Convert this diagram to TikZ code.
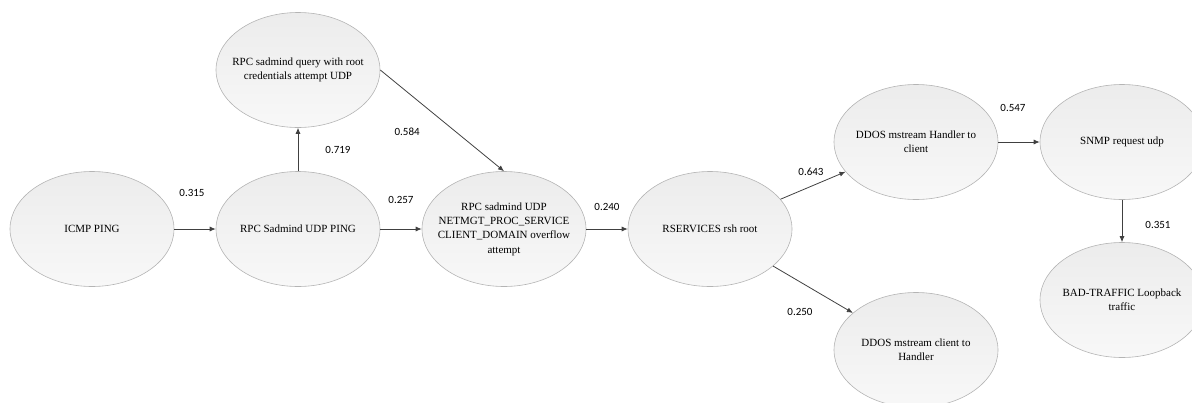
\documentclass[tikz,border=0pt]{standalone}
\usepackage{fontspec}
\setmainfont{Liberation Serif}
\newfontfamily\numfont{Carlito}
\usetikzlibrary{positioning, arrows.meta, shapes.geometric}
\usepackage{xcolor}
\definecolor{alertBorder}{HTML}{B4B4B4}
\definecolor{alertTop}{HTML}{ECECEC}
\definecolor{alertBottom}{HTML}{F8F8F8}
\definecolor{alertArrow}{HTML}{404040}

\begin{document}
\begin{tikzpicture}[
    node distance=206pt,
    attack/.style={ellipse, draw=alertBorder, line width=0.6pt, top color=alertTop, bottom color=alertBottom,
        minimum width=164pt, minimum height=115pt, inner sep=-14pt, align=center,
        font=\fontsize{11}{14.3}\selectfont},
    num/.style={font=\numfont\fontsize{11}{13}\selectfont, inner sep=0pt},
    every edge/.style={draw=alertArrow, line width=0.8pt, -{Latex[length=6pt,width=5pt]}}
]
    \useasboundingbox (0,0) rectangle (1192pt,-402pt);
    \clip (0,0) rectangle (1192pt,-402pt);

    \node[attack] (icmp) at (92pt,-229pt) {ICMP PING};
    \node[attack, right of=icmp] (sadping) {RPC Sadmind UDP PING};
    \node[attack, above of=sadping, node distance=159pt] (query) {RPC sadmind query with root\\credentials attempt UDP};
    \node[attack, right of=sadping] (netmgt) {RPC sadmind UDP\\NETMGT\_PROC\_SERVICE\\CLIENT\_DOMAIN overflow\\attempt};
    \node[attack, right of=netmgt] (rsh) {RSERVICES rsh root};
    \node[attack, right of=rsh, yshift=87pt] (handler) {DDOS mstream Handler to\\client};
    \node[attack, right of=rsh, yshift=-121pt] (client) {DDOS mstream client to\\Handler};
    \node[attack, right of=handler] (snmp) {SNMP request udp};
    \node[attack, below of=snmp, node distance=158pt] (bad) {BAD-TRAFFIC Loopback\\traffic};

    \path (icmp) edge node[num, xshift=-3pt, yshift=36pt]{0.315} (sadping)
          (sadping) edge node[num, xshift=40pt]{0.719} (query)
          (query.east) edge node[num, xshift=-35pt, yshift=-11pt]{0.584} (netmgt.north)
          (sadping) edge node[num, yshift=29pt]{0.257} (netmgt)
          (netmgt) edge node[num, yshift=22pt]{0.240} (rsh)
          (rsh) edge node[num, xshift=-2pt, yshift=14pt]{0.643} (handler)
          (rsh) edge node[num, xshift=-13pt, yshift=-22pt]{0.250} (client)
          (handler) edge node[num, xshift=-6pt, yshift=34pt]{0.547} (snmp)
          (snmp) edge node[num, xshift=36pt, yshift=-4pt]{0.351} (bad);
\end{tikzpicture}
\end{document}
